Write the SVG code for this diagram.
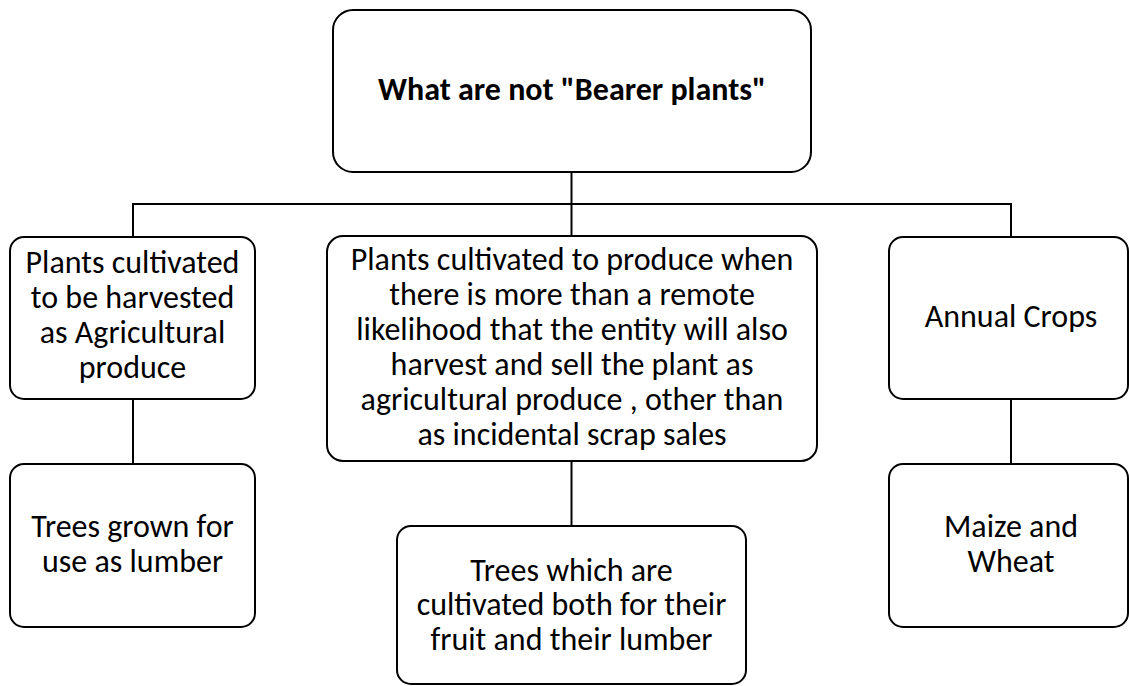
<svg xmlns="http://www.w3.org/2000/svg" width="1129" height="686" viewBox="0 0 1129 686">
  <style>
    .box { fill: #ffffff; stroke: #000000; stroke-width: 2; }
    .wire { fill: none; stroke: #000000; stroke-width: 2; }
    .label { font-family: Carlito, Calibri, "Liberation Sans", sans-serif; font-size: 32px; fill: #000000; text-anchor: middle; }
    .title { font-weight: bold; }
  </style>
  <rect width="1129" height="686" fill="#ffffff"/>

  <!-- tree connectors: root bus and the three vertical drops -->
  <g id="connectors">
    <path class="wire" d="M571.5 172 V236"/>
    <path class="wire" d="M133 236 V204 H1011 V236"/>
    <path class="wire" d="M133 399 V464"/>
    <path class="wire" d="M571.5 461 V526"/>
    <path class="wire" d="M1011 399 V464"/>
  </g>

  <g id="root">
    <rect class="box" x="333" y="10" width="478" height="162" rx="20"/>
    <text class="label title" x="572" y="100">What are not "Bearer plants"</text>
  </g>

  <g id="harvested-produce">
    <rect class="box" x="10" y="237" width="245" height="162" rx="14"/>
    <text class="label"><tspan x="132.5" y="273">Plants cultivated</tspan><tspan x="132.5" y="308">to be harvested</tspan><tspan x="132.5" y="343">as Agricultural</tspan><tspan x="132.5" y="378">produce</tspan></text>
  </g>

  <g id="remote-likelihood">
    <rect class="box" x="327" y="236" width="490" height="225" rx="16"/>
    <text class="label"><tspan x="572" y="270">Plants cultivated to produce when</tspan><tspan x="572" y="305">there is more than a remote</tspan><tspan x="572" y="340">likelihood that the entity will also</tspan><tspan x="572" y="375">harvest and sell the plant as</tspan><tspan x="572" y="410">agricultural produce , other than</tspan><tspan x="572" y="445">as incidental scrap sales</tspan></text>
  </g>

  <g id="annual-crops">
    <rect class="box" x="889" y="237" width="239" height="162" rx="14"/>
    <text class="label" x="1011" y="327">Annual Crops</text>
  </g>

  <g id="lumber-trees">
    <rect class="box" x="10" y="464" width="245" height="163" rx="14"/>
    <text class="label"><tspan x="132.5" y="537">Trees grown for</tspan><tspan x="132.5" y="572">use as lumber</tspan></text>
  </g>

  <g id="fruit-and-lumber">
    <rect class="box" x="397" y="526" width="349" height="158" rx="14"/>
    <text class="label"><tspan x="571.5" y="581">Trees which are</tspan><tspan x="571.5" y="615">cultivated both for their</tspan><tspan x="571.5" y="650">fruit and their lumber</tspan></text>
  </g>

  <g id="maize-wheat">
    <rect class="box" x="889" y="464" width="239" height="163" rx="14"/>
    <text class="label"><tspan x="1011" y="537">Maize and</tspan><tspan x="1011" y="572">Wheat</tspan></text>
  </g>
</svg>
